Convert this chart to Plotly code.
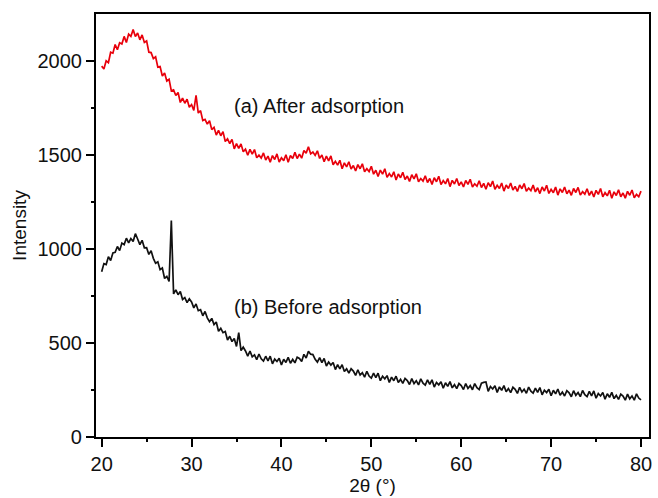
import numpy as np
import plotly.graph_objects as go

# 2-theta grid (degrees), step 0.25 from 20 to 80
two_theta = np.round(np.arange(20.0, 80.0001, 0.25), 2)

after_adsorption = [
    1970, 1955, 1998, 1988, 2044, 2039, 2085, 2057, 2094, 2088, 2128, 2096,
    2140, 2128, 2164, 2127, 2146, 2110, 2136, 2096, 2104, 2044, 2042, 2010,
    2020, 1965, 1968, 1918, 1934, 1891, 1900, 1839, 1844, 1814, 1830, 1777,
    1800, 1773, 1794, 1752, 1766, 1735, 1815, 1721, 1734, 1681, 1687, 1662,
    1680, 1633, 1645, 1604, 1629, 1600, 1622, 1570, 1584, 1559, 1581, 1531,
    1558, 1533, 1557, 1515, 1529, 1497, 1528, 1503, 1527, 1483, 1497, 1482,
    1509, 1471, 1492, 1460, 1495, 1474, 1504, 1461, 1483, 1468, 1499, 1459,
    1495, 1479, 1512, 1479, 1503, 1481, 1522, 1508, 1542, 1504, 1514, 1496,
    1520, 1480, 1498, 1462, 1492, 1467, 1493, 1446, 1464, 1444, 1470, 1425,
    1456, 1435, 1462, 1424, 1442, 1413, 1447, 1425, 1451, 1409, 1425, 1410,
    1438, 1396, 1417, 1384, 1418, 1396, 1425, 1379, 1399, 1381, 1409, 1365,
    1397, 1377, 1406, 1368, 1386, 1358, 1393, 1371, 1398, 1356, 1373, 1359,
    1388, 1352, 1373, 1342, 1377, 1356, 1385, 1341, 1362, 1345, 1373, 1330,
    1363, 1344, 1373, 1336, 1355, 1328, 1363, 1342, 1369, 1328, 1345, 1332,
    1361, 1325, 1347, 1316, 1351, 1330, 1360, 1316, 1337, 1320, 1349, 1306,
    1339, 1320, 1349, 1312, 1331, 1304, 1339, 1319, 1346, 1305, 1322, 1309,
    1338, 1302, 1324, 1293, 1328, 1307, 1337, 1294, 1315, 1298, 1328, 1285,
    1318, 1299, 1328, 1292, 1311, 1284, 1320, 1299, 1326, 1285, 1303, 1290,
    1319, 1283, 1306, 1275, 1310, 1289, 1320, 1276, 1298, 1281, 1311, 1268,
    1302, 1283, 1313, 1276, 1296, 1269, 1305, 1284, 1312, 1271, 1289, 1276,
    1306,
]

before_adsorption = [
    878, 921, 916, 958, 937, 978, 981, 1012, 990, 1030, 1022, 1056,
    1031, 1054, 1039, 1080, 1052, 1022, 1045, 1005, 1006, 970, 989, 949,
    923, 931, 889, 898, 842, 853, 826, 1150, 760, 782, 756, 773,
    731, 741, 714, 734, 717, 686, 707, 671, 676, 644, 667, 633,
    613, 630, 597, 611, 562, 577, 554, 560, 515, 535, 507, 523,
    481, 555, 459, 477, 457, 430, 457, 426, 436, 411, 441, 415,
    403, 429, 405, 429, 389, 414, 401, 418, 383, 413, 396, 423,
    392, 412, 394, 424, 417, 401, 439, 420, 455, 440, 438, 413,
    398, 422, 395, 417, 377, 398, 382, 396, 358, 384, 362, 384,
    348, 362, 339, 363, 350, 327, 357, 329, 342, 318, 349, 324,
    313, 339, 315, 339, 299, 323, 309, 326, 290, 318, 299, 323,
    290, 306, 285, 311, 300, 279, 310, 284, 299, 277, 309, 286,
    276, 303, 279, 304, 265, 290, 277, 294, 259, 288, 269, 294,
    261, 278, 257, 284, 273, 252, 284, 258, 273, 251, 284, 262,
    252, 286, 290, 292, 243, 268, 255, 272, 237, 266, 248, 273,
    240, 257, 236, 264, 253, 232, 264, 239, 254, 232, 265, 243,
    233, 260, 237, 263, 224, 249, 236, 254, 219, 248, 229, 255,
    222, 239, 218, 246, 235, 214, 246, 221, 236, 214, 247, 225,
    215, 242, 219, 245, 206, 231, 218, 236, 201, 230, 211, 237,
    204, 221, 200, 228, 217, 196, 228, 203, 218, 196, 229, 207,
    197,
]

x_ticks = [20, 30, 40, 50, 60, 70, 80]
y_ticks = [0, 500, 1000, 1500, 2000]
label_a = "(a) After adsorption"
label_b = "(b) Before adsorption"

FONT = "Liberation Sans, Arial, Helvetica, sans-serif"

fig = go.Figure()
fig.add_trace(go.Scatter(x=two_theta, y=after_adsorption, mode="lines",
                         line=dict(color="#e8000b", width=1.7),
                         showlegend=False))
fig.add_trace(go.Scatter(x=two_theta, y=before_adsorption, mode="lines",
                         line=dict(color="#111111", width=1.7),
                         showlegend=False))

fig.add_annotation(x=34.5, y=1758, text=label_a, showarrow=False,
                   xanchor="left", yanchor="middle",
                   font=dict(family=FONT, size=20, color="#111"))
fig.add_annotation(x=34.5, y=689, text=label_b, showarrow=False,
                   xanchor="left", yanchor="middle",
                   font=dict(family=FONT, size=20, color="#111"))

axis_common = dict(showline=True, linecolor="black", linewidth=2.2, mirror=True,
                   ticks="outside", ticklen=8, tickwidth=2.2, tickcolor="black",
                   showgrid=False, zeroline=False,
                   tickfont=dict(family=FONT, size=20, color="#111"))

fig.update_xaxes(range=[19.37, 80.89], tickvals=x_ticks,
                 minor=dict(ticks="outside", ticklen=3, tickwidth=2.2, dtick=5,
                            tick0=0, tickcolor="black", showgrid=False),
                 title=dict(text="2θ (°)", standoff=4,
                            font=dict(family=FONT, size=19, color="#111")),
                 **axis_common)
fig.update_yaxes(range=[0, 2247], tickvals=y_ticks,
                 minor=dict(ticks="outside", ticklen=3, tickwidth=2.2, dtick=250,
                            tick0=0, tickcolor="black", showgrid=False),
                 title=dict(text="Intensity", standoff=6,
                            font=dict(family=FONT, size=19, color="#111")),
                 **axis_common)

fig.update_layout(width=658, height=498,
                  margin=dict(l=96, r=6, t=14, b=57),
                  paper_bgcolor="white", plot_bgcolor="white")

fig.write_html("out.html")
